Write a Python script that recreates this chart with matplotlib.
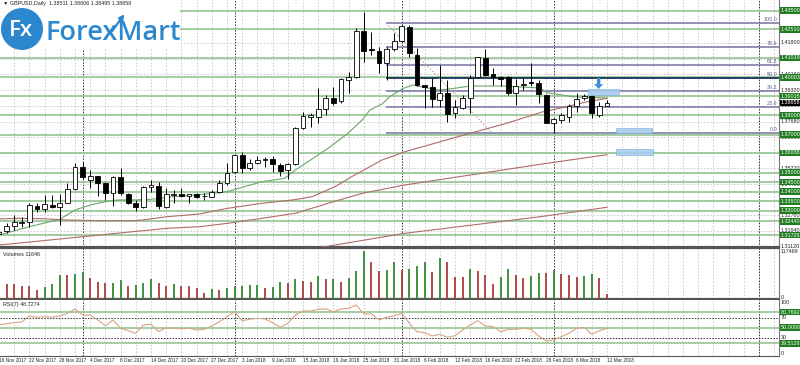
import matplotlib
matplotlib.use("Agg")
import matplotlib.pyplot as plt
from matplotlib.patches import Rectangle, Circle
from matplotlib.transforms import blended_transform_factory

# GBPUSD daily, 16 Nov 2017 .. 12 Mar 2018
opens = [1.31782, 1.31955, 1.32202, 1.32343, 1.32427, 1.33250, 1.33077, 1.33303, 1.33182, 1.33423,
         1.34126, 1.35312, 1.34614, 1.34824, 1.34441, 1.33916, 1.34787, 1.33880, 1.33392, 1.33182,
         1.34231, 1.34299, 1.33213, 1.33812, 1.33880, 1.33775, 1.33880, 1.33759, 1.33738, 1.34000,
         1.34441, 1.35049, 1.35925, 1.35228, 1.35521, 1.35663, 1.35700, 1.35401, 1.35139, 1.35437,
         1.37357, 1.37934, 1.37934, 1.38322, 1.38931, 1.38773, 1.39859, 1.40001, 1.42445, 1.41469,
         1.41396, 1.40766, 1.41469, 1.41920, 1.42655, 1.41170, 1.39597, 1.39508, 1.38810, 1.39161,
         1.38112, 1.38375, 1.38899, 1.40032, 1.41029, 1.40174, 1.40001, 1.40001, 1.39193, 1.39581,
         1.39770, 1.39686, 1.39072, 1.37619, 1.37761, 1.37934, 1.38495, 1.38899, 1.39020, 1.38023,
         1.38511]
highs = [1.31992, 1.32359, 1.32778, 1.32689, 1.33392, 1.33408, 1.33827, 1.33827, 1.33880, 1.34441,
         1.35521, 1.35574, 1.35139, 1.34824, 1.34525, 1.34824, 1.35228, 1.33948, 1.33565, 1.34299,
         1.34614, 1.34525, 1.34179, 1.34090, 1.34179, 1.33906, 1.33932, 1.33932, 1.34090, 1.34614,
         1.35490, 1.35978, 1.36098, 1.35700, 1.35873, 1.35836, 1.35873, 1.35490, 1.35490, 1.37410,
         1.38196, 1.38112, 1.39424, 1.39072, 1.39476, 1.39948, 1.40294, 1.42571, 1.43441, 1.42392,
         1.41574, 1.41606, 1.42340, 1.42744, 1.42744, 1.41522, 1.39623, 1.39948, 1.40646, 1.39859,
         1.38810, 1.39072, 1.40121, 1.41065, 1.41469, 1.40473, 1.40069, 1.40069, 1.39896, 1.40032,
         1.40766, 1.39859, 1.39125, 1.37850, 1.38112, 1.38600, 1.39161, 1.39125, 1.39072, 1.38721,
         1.38806]
lows = [1.31677, 1.31834, 1.31992, 1.32165, 1.32165, 1.32951, 1.32951, 1.33129, 1.32254, 1.33392,
        1.34090, 1.34651, 1.34179, 1.33775, 1.33565, 1.33250, 1.33827, 1.33355, 1.33003, 1.33129,
        1.34000, 1.33077, 1.33129, 1.33392, 1.33738, 1.33392, 1.33670, 1.33565, 1.33707, 1.33948,
        1.34352, 1.34997, 1.34965, 1.35139, 1.35453, 1.35312, 1.35049, 1.34824, 1.34651, 1.35401,
        1.37273, 1.37410, 1.37588, 1.38023, 1.38548, 1.38637, 1.39193, 1.39948, 1.40819, 1.41170,
        1.40242, 1.39859, 1.41396, 1.41852, 1.41050, 1.39544, 1.38375, 1.38459, 1.38459, 1.37672,
        1.37850, 1.38322, 1.38112, 1.39990, 1.40069, 1.39597, 1.39544, 1.39072, 1.38548, 1.39335,
        1.39544, 1.38637, 1.37588, 1.37095, 1.37588, 1.37672, 1.38196, 1.38810, 1.37850, 1.37903,
        1.38495]
closes = [1.31903, 1.32202, 1.32411, 1.32427, 1.33303, 1.33077, 1.33339, 1.33197, 1.33423, 1.34126,
          1.35280, 1.34756, 1.34824, 1.34441, 1.33948, 1.34787, 1.33916, 1.33423, 1.33182, 1.34263,
          1.34352, 1.33250, 1.33880, 1.33880, 1.33775, 1.33880, 1.33707, 1.33791, 1.34000, 1.34441,
          1.34997, 1.35925, 1.35228, 1.35521, 1.35663, 1.35700, 1.35437, 1.35102, 1.35437, 1.37357,
          1.37971, 1.38023, 1.38322, 1.38931, 1.38668, 1.39896, 1.40001, 1.42445, 1.41396, 1.41417,
          1.40766, 1.41469, 1.41920, 1.42691, 1.41259, 1.39597, 1.39476, 1.38847, 1.39161, 1.38076,
          1.38427, 1.38899, 1.39948, 1.41050, 1.40121, 1.40032, 1.39927, 1.39193, 1.39544, 1.39649,
          1.39686, 1.39125, 1.37619, 1.37798, 1.38023, 1.38495, 1.38878, 1.39020, 1.38112, 1.38495,
          1.38658]
volumes = [37000, 37000, 37000, 32800, 32500, 23000, 29600, 37000, 60000, 59500,
           62400, 66600, 51800, 42000, 39500, 39800, 46900, 31300, 34600, 39500,
           48600, 39500, 31300, 36300, 32100, 31300, 27900, 14100, 24700, 23000,
           27900, 32100, 33000, 33500, 34000, 28000, 28900, 42000, 40200, 48600,
           43700, 42000, 56800, 49400, 50100, 42000, 52600, 69800, 117469, 91300,
           68400, 72300, 91300, 72300, 72900, 82200, 92100, 65900, 100400, 91300,
           53600, 53400, 74800, 69100, 60000, 36300, 55000, 74000, 58500, 51800,
           56000, 64200, 63500, 72300, 61000, 59200, 53600, 56000, 61000, 52600,
           11646]
rsi = [55.5, 58.0, 60.0, 61.4, 73.1, 70.6, 71.8, 70.6, 73.1, 78.4,
       86.9, 75.1, 75.1, 65.3, 54.1, 65.3, 49.0, 44.3, 39.2, 55.5,
       56.9, 42.4, 50.2, 49.0, 48.2, 49.0, 45.7, 47.1, 53.5, 62.0,
       71.8, 81.6, 63.9, 66.7, 68.6, 67.3, 60.0, 51.0, 58.8, 75.1,
       82.9, 82.9, 86.3, 86.9, 81.6, 86.9, 88.2, 94.7, 77.1, 77.1,
       65.3, 70.6, 73.7, 78.4, 58.8, 42.4, 40.4, 33.9, 37.3, 31.4,
       34.5, 45.7, 55.5, 63.9, 53.5, 52.2, 42.4, 47.1, 47.1, 49.0,
       47.1, 33.9, 24.1, 26.1, 32.6, 39.2, 49.0, 51.0, 37.3, 44.3,
       48.7]

# moving averages, read at points along each line
ma_fast_x = [0, 4, 8, 10, 12, 14, 15.5, 17.6, 20, 22, 24, 26, 30, 34.6, 37.6, 39, 41, 43.3, 45.9,
             47.8, 48.8, 50.4, 51.4, 53.2, 54.5, 57.6, 59.3, 62, 66.3, 71.2, 72.1, 75.5, 77.4, 80]
ma_fast_y = [1.31729, 1.32165, 1.32553, 1.33041, 1.33303, 1.33476, 1.33565, 1.33565, 1.33602, 1.33707,
             1.33775, 1.33827, 1.34000, 1.34525, 1.34703, 1.35139, 1.35663, 1.36277, 1.37064,
             1.37761, 1.38286, 1.38600, 1.38983, 1.39424, 1.39597, 1.39335, 1.39387, 1.39544, 1.39544,
             1.39439, 1.39193, 1.38983, 1.38952, 1.38915]
ma_mid_x = [0, 2.8, 5.8, 8.9, 13.3, 17.6, 18.9, 22.1, 26.4, 30.1, 34.6, 38.6, 41.2, 44.2, 46.4,
            50.4, 53.4, 62, 66.8, 71.6, 74.7, 77.4, 80]
ma_mid_y = [1.32569, 1.32605, 1.32584, 1.32516, 1.32479, 1.32479, 1.32516, 1.32689, 1.32831, 1.33129,
            1.33392, 1.33565, 1.33738, 1.34263, 1.34787, 1.35663, 1.36098, 1.37064, 1.37588, 1.38196,
            1.38459, 1.38721, 1.38899]
ma_slow_x = [0, 4.5, 8.9, 13.3, 17.6, 22.1, 26.4, 30.1, 34.6, 39, 43.3, 47.8, 53.4, 71.2, 80]
ma_slow_y = [1.31205, 1.31378, 1.31557, 1.31729, 1.31903, 1.32080, 1.32165, 1.32343, 1.32605, 1.32868,
             1.33392, 1.33916, 1.34352, 1.35437, 1.35941]
ma_long_x = [41.6, 53.4, 71.2, 80]
ma_long_y = [1.31032, 1.31818, 1.32689, 1.33182]

# horizontal support / resistance levels (green) and fibo retracement
levels = [1.43500, 1.42510, 1.41019, 1.40003, 1.39015, 1.38000, 1.37000, 1.36038,
          1.35000, 1.34500, 1.34000, 1.33500, 1.33000, 1.32440, 1.31728]
fib_high, fib_low = 1.42849, 1.37079
fib_levels = [0.0, 23.6, 38.2, 50.0, 61.8, 78.6, 100.0]
fib_start, fib_end = 50.9, 64.9

scale_prices = [1.41800, 1.40980, 1.40160, 1.39320, 1.38500, 1.37680, 1.36860,
                1.36040, 1.35220, 1.34400, 1.33580, 1.32760, 1.31940, 1.31120]
rsi_levels = [80.7692, 50.0, 19.5128]

date_labels = ["16 Nov 2017", "22 Nov 2017", "28 Nov 2017", "4 Dec 2017", "8 Dec 2017",
               "14 Dec 2017", "20 Dec 2017", "27 Dec 2017", "3 Jan 2018", "9 Jan 2018",
               "15 Jan 2018", "19 Jan 2018", "25 Jan 2018", "31 Jan 2018", "6 Feb 2018",
               "12 Feb 2018", "16 Feb 2018", "22 Feb 2018", "28 Feb 2018", "6 Mar 2018",
               "12 Mar 2018"]
month_starts = [11, 31, 53, 73, 100]

W, H = 800, 365
n = len(closes)
idx = list(range(n))
xmin, xmax = 1 / 7.6, 780 / 7.6

fig = plt.figure(figsize=(W / 100, H / 100), dpi=100)
fig.patch.set_facecolor("white")


def box(top, bottom):
    return [0, 1 - bottom / H, 779 / W, (bottom - top) / H]


ax = fig.add_axes(box(0, 247))
axv = fig.add_axes(box(248, 299))
axr = fig.add_axes(box(300, 356))

small = dict(fontsize=3.9, family="Liberation Sans")
tiny = dict(fontsize=3.4, family="Liberation Sans")
grid_kw = dict(color="#c4c4c4", lw=0.6, linestyle=(0, (2, 2)), zorder=0)
sep_kw = dict(color="#333333", lw=0.7, linestyle=(0, (1.5, 1.5)), zorder=1)

for a in (ax, axv, axr):
    a.set_xlim(xmin, xmax)
    a.set_xticks([])
    a.set_yticks([])
    for s in ("left", "top"):
        a.spines[s].set_visible(False)
    a.spines["right"].set_color("#777777")
    a.spines["right"].set_linewidth(0.8)
    a.spines["bottom"].set_color("#555555")
    a.spines["bottom"].set_linewidth(1.6)
    for gx in range(0, 104, 2):
        a.axvline(gx, **grid_kw)
    for m in month_starts:
        a.axvline(m, **sep_kw)
axv.spines["top"].set_visible(True)
axv.spines["top"].set_color("#555555")
axv.spines["top"].set_linewidth(1.6)

# ---------------- main price panel ----------------
ax.set_ylim(1.3110, 1.44055)
for p in scale_prices:
    ax.axhline(p, **grid_kw)
ax.hlines(levels, xmin, xmax, color="#9cc79a", lw=1.3, zorder=2)

fib_vals = [fib_low + f / 100 * (fib_high - fib_low) for f in fib_levels]
for f, v in zip(fib_levels, fib_vals):
    dark = f == 50.0
    ax.hlines(v, fib_start, xmax, color="#243f66" if dark else "#7c7fa6",
              lw=1.4 if dark else 1.2, zorder=3)
    ax.text(xmax - 0.2, v + 0.0004, f"{f:.1f}", ha="right", va="bottom",
            color="#5d6090", zorder=6, **small)
ax.plot([fib_start, fib_end], [fib_high, fib_low], color="#c9a3a3", lw=0.8,
        linestyle=(0, (1.5, 1.5)), zorder=3)

ax.plot(ma_fast_x, ma_fast_y, color="#6aa86a", lw=0.8, zorder=4)
ax.plot(ma_mid_x, ma_mid_y, color="#b06a6a", lw=0.8, zorder=4)
ax.plot(ma_slow_x, ma_slow_y, color="#b06a6a", lw=0.8, zorder=4)
ax.plot(ma_long_x, ma_long_y, color="#b06a6a", lw=0.8, zorder=4)

ax.vlines(idx, lows, highs, color="black", lw=0.7, zorder=5)
bottoms = [min(o, c) for o, c in zip(opens, closes)]
heights = [abs(c - o) for o, c in zip(opens, closes)]
colors = ["white" if c >= o else "black" for o, c in zip(opens, closes)]
ax.bar(idx, heights, bottom=bottoms, width=0.64, color=colors,
       edgecolor="black", linewidth=0.6, zorder=6)

# blue text boxes and arrow
for x0, x1, y0, y1 in [(77.5, 81.6, 1.39072, 1.39371),
                       (81.2, 85.9, 1.37064, 1.37326),
                       (81.2, 86.1, 1.35941, 1.36224)]:
    ax.add_patch(Rectangle((x0, y0), x1 - x0, y1 - y0, facecolor="#a9cdee",
                           edgecolor="#7fb2e0", lw=0.5, alpha=0.9, zorder=7))
ax.annotate("", xy=(78.9, 1.3939), xytext=(78.9, 1.3997),
            arrowprops=dict(width=2.4, headwidth=6.5, headlength=3.5,
                            color="#3d8fdb", lw=0), zorder=8)

tr = blended_transform_factory(fig.transFigure, ax.transData)
xl = 780.5 / W
green_box = dict(boxstyle="square,pad=0.15", facecolor="#1f7d1f", edgecolor="none")
for p in scale_prices:
    # scale labels sitting under a level box are hidden, as on the terminal
    if min(abs(p - q) for q in levels) < 0.0009:
        continue
    ax.text(xl, p, f"{p:.5f}", transform=tr, ha="left", va="center",
            color="#222222", **small)
for p in levels:
    ax.text(xl, p, f"{p:.5f}", transform=tr, ha="left", va="center", color="white",
            bbox=green_box, **small)
ax.text(xl, closes[-1], f"{closes[-1]:.5f}", transform=tr, ha="left", va="center",
        color="white", bbox=dict(boxstyle="square,pad=0.15", facecolor="black",
                                 edgecolor="none"), **small)

# ---------------- volume panel ----------------
axv.set_ylim(0, 125900)
vcol = ["#a83a3a"] + ["#2f8a2f" if volumes[i] > volumes[i - 1] else "#a83a3a"
                      for i in range(1, n)]
axv.vlines(idx, 0, volumes, colors=vcol, lw=1.3, zorder=3)
axv.text(0.004, 0.93, f"Volumes {volumes[-1]}", transform=axv.transAxes,
         ha="left", va="top", color="#222222", **small)
trv = blended_transform_factory(fig.transFigure, axv.transData)
axv.text(xl, 117469, "117469", transform=trv, ha="left", va="center", color="#222222", **small)
axv.text(xl, 3000, "0", transform=trv, ha="left", va="center", color="#222222", **small)

# ---------------- RSI panel ----------------
axr.set_ylim(-5.3, 104.5)
axr.spines["bottom"].set_linewidth(0.8)
axr.hlines(rsi_levels, xmin, xmax, color="#8fc08d", lw=1.1, zorder=2)
axr.hlines([70, 30], xmin, xmax, color="#333333", lw=0.7, linestyle=(0, (1.5, 1.5)), zorder=2)
axr.plot(idx, rsi, color="#d6a583", lw=0.8, zorder=4)
axr.text(0.004, 0.97, "RSI(7) 48.7274", transform=axr.transAxes,
         ha="left", va="top", color="#222222", **small)
trr = blended_transform_factory(fig.transFigure, axr.transData)
for v in (100, 70, 30, 0):
    axr.text(xl, v, str(v), transform=trr, ha="left", va="center", color="#222222", **small)
for v in rsi_levels:
    axr.text(xl, v, f"{v:.4f}", transform=trr, ha="left", va="center", color="white",
             bbox=green_box, **small)

# date labels
trd = blended_transform_factory(axr.transData, fig.transFigure)
for k, lab in enumerate(date_labels):
    axr.text(k * 4 - 0.05, 1 - 361 / H, lab, transform=trd, ha="left", va="center",
             color="#222222", clip_on=False, **tiny)

# ---------------- header + logo overlay ----------------
ov = fig.add_axes([0, 0, 1, 1], zorder=10)
ov.set_xlim(0, W)
ov.set_ylim(H, 0)
ov.axis("off")
ov.patch.set_alpha(0)
ov.add_patch(Rectangle((0, 0), 180, 49, facecolor="white", edgecolor="none"))
ov.add_patch(Circle((22, 29), 21, facecolor="#2b88cf", edgecolor="none"))
ov.text(21, 30, "Fx", color="white", fontsize=16, ha="center", va="center",
        family="Open Sans", weight="semibold")
ov.text(46, 40, "ForexMart", color="#2b88cf", fontsize=19.5, ha="left", va="baseline",
        family="Open Sans", weight="semibold")
ov.annotate("", xy=(126, 12), xytext=(110, 34),
            arrowprops=dict(arrowstyle="-|>", color="#2b88cf", lw=1.6,
                            mutation_scale=7))
ov.text(3, 4, "\u25bc GBPUSD,Daily  1.38511 1.38806 1.38495 1.38658", ha="left",
        va="center", color="#222222", **small)

fig.savefig("out.png", dpi=100)
